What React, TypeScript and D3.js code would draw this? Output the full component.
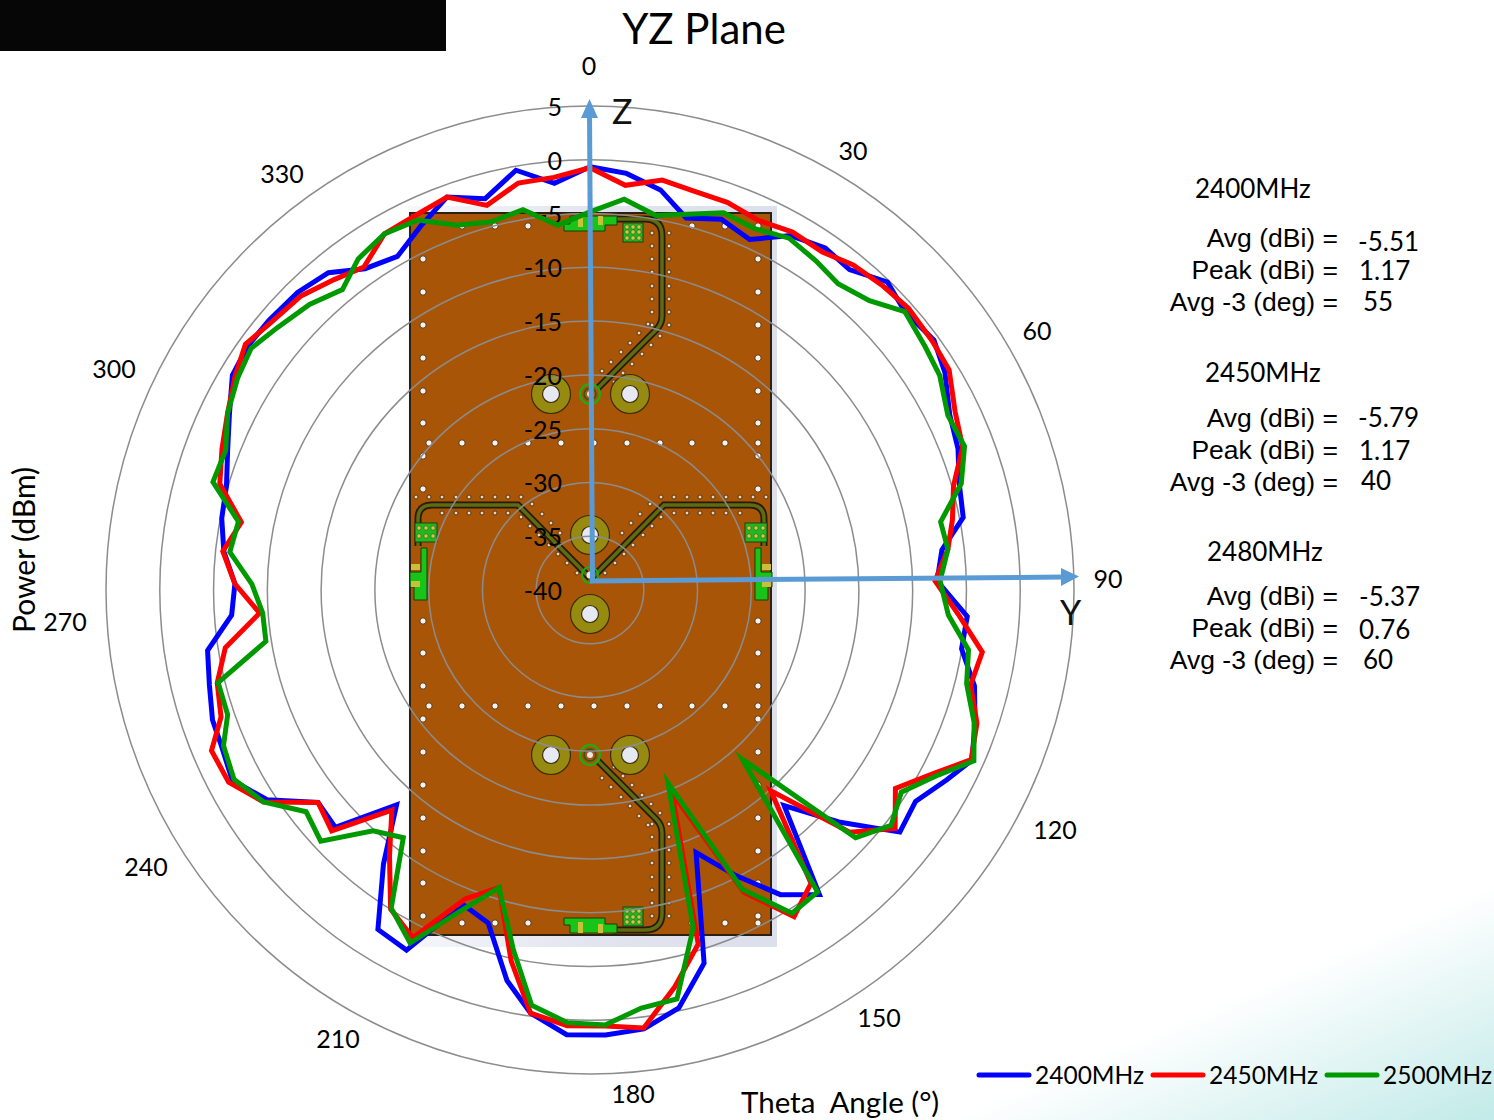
import React from "react";
import * as d3 from "d3";

// angles the samples sit at (degrees clockwise from Z)
const thetaDeg = [
  0, 5, 10, 14.5, 19.5, 24.5, 29.5, 34.5, 39, 44, 48.5, 54, 58.5, 64, 69, 74, 79, 83.5, 88.5,
  94, 99, 104, 109, 114, 118, 123, 128, 133, 138, 143, 148, 153, 158, 163, 168, 173, 178, 183,
  188, 192, 197, 202, 207, 212, 217, 222, 227, 232, 237, 242, 247, 251, 256, 261, 266, 271,
  276, 281, 286, 291, 296, 301, 305.5, 310, 315.5, 320.5, 325, 330, 335, 340, 345, 350, 355,
];

const power2400 = [
  -0.65, -1.12, -2.23, -4.28, -3.44, -4.19, -2.14, -1.4, -1.67, -0.19, -0.93, -0.47, -1.3, -2.79,
  -3.35, -4.28, -4.65, -7.07, -7.72, -4.84, -5.02, -3.16, -2.14, -1.12, -2.42, -3.91, -3.44,
  -8.37, -13.02, -4.56, -6.6, -10.23, -13.67, -3.72, -0.28, 1.12, 1.4, 1.4, -0.28, -2.88, -7.63,
  -8.47, -2.42, -2.79, -8.09, -13.12, -7.63, -7.91, -4.19, -2.33, -2.79, -2.88, -3.53, -4.0,
  -6.6, -6.98, -5.77, -5.12, -4.84, -3.91, -2.7, -1.21, -0.93, -1.02, -1.21, -1.77, -3.53, -4.19,
  -2.7, -1.12, -2.33, -0.37, -2.05,
];

const power2450 = [
  -0.74, -2.23, -1.3, -1.67, -1.77, -2.23, -1.77, -1.86, -1.12, -0.74, -0.47, -0.65, -0.84, -2.23,
  -2.88, -4.84, -5.67, -6.51, -7.91, -5.58, -3.07, -3.53, -1.95, -1.21, -3.72, -6.14, -4.0, -6.98,
  -14.88, -5.86, -4.19, -8.47, -19.63, -5.58, -2.23, 1.02, 0.56, 0.56, -0.28, -4.74, -11.07,
  -9.02, -3.72, -5.02, -9.02, -12.47, -7.16, -7.91, -3.81, -1.95, -1.77, -3.72, -4.28, -5.67,
  -9.21, -6.98, -5.67, -6.98, -4.19, -3.35, -2.51, -1.49, -0.65, -1.3, -1.67, -2.6, -3.35, -1.77,
  -1.58, -1.12, -2.98, -1.58, -1.49,
];

const power2500 = [
  -4.84, -3.53, -4.65, -3.91, -2.79, -3.07, -2.42, -2.88, -3.35, -2.6, -0.93, -1.49, -1.86, -2.98,
  -2.7, -4.09, -6.79, -6.51, -7.44, -6.6, -4.37, -3.91, -2.23, -0.93, -3.35, -5.49, -4.47, -6.23,
  -18.8, -4.84, -4.56, -8.74, -20.65, -7.16, -1.12, -0.84, 0.47, 0.28, -1.02, -5.77, -11.07,
  -7.81, -3.16, -5.12, -11.16, -9.86, -5.77, -6.51, -3.81, -2.51, -2.98, -4.37, -4.37, -9.49,
  -9.49, -8.56, -6.33, -6.7, -3.53, -3.72, -2.51, -1.77, -1.3, -2.05, -2.79, -3.81, -2.42, -1.77,
  -2.05, -3.91, -4.56, -4.09, -5.95,
];

const seriesNames = ["2400MHz", "2450MHz", "2500MHz"];
const seriesValues = [power2400, power2450, power2500];
const seriesColors = ["#0000ff", "#ff0000", "#009900"];

const radialTicks = [5, 0, -5, -10, -15, -20, -25, -30, -35, -40];
const angleLabels = ["0", "30", "60", "90", "120", "150", "180", "210", "240", "270", "300", "330"];
const angleLabelPos = [
  [589, 66], [853, 151], [1037, 331], [1108, 579], [1055, 830], [879, 1018],
  [633, 1094], [338, 1039], [146, 867], [65, 622], [114, 369], [282, 174],
];

const statBlocks = [
  { title: "2400MHz", titleX: 1195, titleY: 198, labelY: [247, 279, 311], values: ["-5.51", "1.17", "55"], valueX: [1358, 1359, 1363], valueY: [251, 280, 311] },
  { title: "2450MHz", titleX: 1205, titleY: 382, labelY: [427, 459, 491], values: ["-5.79", "1.17", "40"], valueX: [1358, 1359, 1361], valueY: [427, 460, 490] },
  { title: "2480MHz", titleX: 1207, titleY: 561, labelY: [605, 637, 669], values: ["-5.37", "0.76", "60"], valueX: [1359, 1359, 1363], valueY: [606, 639, 669] },
];
const statLabels = ["Avg (dBi) =", "Peak (dBi) =", "Avg -3 (deg) ="];

const cx = 590;
const cy = 590;
const r = d3.scaleLinear().domain([-40, 5]).range([0, 484]);
const calibri = "Lato, 'Open Sans', sans-serif";

// board artwork: via positions
const bigViaLeft = [259, 292, 325, 358, 391, 423, 456, 489, 621, 653, 686, 719, 752, 785, 818, 851, 883, 916];
const midRowX = [429, 462, 495, 528, 561, 594, 627, 660, 692, 725, 758];
const edgeTopX = [462, 495, 528, 692, 725, 758];
const sideColY = [233, 246, 259, 272, 286, 299, 312, 325];
const diagA = [[648, 324], [639, 333], [630, 343], [621, 352], [611, 362], [602, 371]];
const diagB = [[660, 336], [651, 345], [642, 354], [632, 364], [623, 373], [614, 382]];
const feedTopX = [416, 429, 442, 456, 469, 482, 495, 508, 521];
const feedBottomX = [442, 456, 469, 482, 495, 508];
const feedDiagA = [[532, 504], [542, 514], [551, 523], [560, 533]];
const feedDiagB = [[521, 517], [530, 526], [539, 535], [549, 545], [558, 554], [567, 563], [577, 573]];
const padCenters = [[551, 394], [630, 394], [590, 535], [590, 614], [551, 755], [630, 755]];

const BigVia = ({ x, y }: { x: number; y: number }) => (
  <circle cx={x} cy={y} r={3.2} fill="#f4f2f0" stroke="#5c3306" strokeWidth={1} />
);
const SmallVia = ({ x, y }: { x: number; y: number }) => (
  <circle cx={x} cy={y} r={2} fill="#e8d8c4" stroke="#4a2a06" strokeWidth={0.9} />
);

function Trace({ d }: { d: string }) {
  return (
    <g fill="none">
      <path d={d} stroke="#241d08" strokeWidth={7} />
      <path d={d} stroke="#5f6a12" strokeWidth={3.5} />
    </g>
  );
}

function NetBlock() {
  return (
    <g>
      <rect x={623} y={223} width={20} height={19} fill="#21b821" stroke="#214010" strokeWidth={1} />
      {[627, 633, 639].flatMap((x) => [227, 232, 238].map((y) => (
        <circle key={`${x}-${y}`} cx={x} cy={y} r={2.2} fill="#c9c94a" stroke="#214010" strokeWidth={0.5} />
      )))}
    </g>
  );
}

// top half of the board; the bottom half is the same thing flipped
function BoardHalf() {
  return (
    <g>
      <Trace d="M593,393 L656,330 Q662,324 662,316 L662,236 Q662,219 645,219 L613,219" />
      {sideColY.flatMap((y) => [652, 669].map((x) => <SmallVia key={`${x}-${y}`} x={x} y={y} />))}
      {diagA.concat(diagB).map(([x, y]) => <SmallVia key={`${x}-${y}`} x={x} y={y} />)}
      <circle cx={590} cy={394} r={10} fill="#a85507" stroke="#17b017" strokeWidth={2} />
      <circle cx={590} cy={394} r={6} fill="#a85507" stroke="#2a5a10" strokeWidth={1.5} />
      <circle cx={590} cy={394} r={3} fill="#e6e8f2" />
      <path d="M564,224 H570 V216 H617 V225 H605 V231 H564 Z" fill="#19c419" stroke="#1d3a0c" strokeWidth={1} />
      <rect x={578} y={216} width={5} height={11} fill="#c9c03a" />
      <rect x={598} y={216} width={5} height={9} fill="#c9c03a" />
      <NetBlock />
    </g>
  );
}

function FeedSide() {
  return (
    <g>
      <Trace d="M590,578 L518,505 L432,505 Q418,505 418,519 L418,546" />
      {feedTopX.map((x) => <SmallVia key={x} x={x} y={497} />)}
      {feedBottomX.map((x) => <SmallVia key={x} x={x} y={513} />)}
      {feedDiagA.concat(feedDiagB).map(([x, y]) => <SmallVia key={`${x}-${y}`} x={x} y={y} />)}
      <rect x={415} y={523} width={22} height={19} fill="#21b821" stroke="#214010" strokeWidth={1} />
      {[419, 426, 433].flatMap((x) => [528, 536].map((y) => (
        <circle key={`${x}-${y}`} cx={x} cy={y} r={2.2} fill="#c9c94a" stroke="#214010" strokeWidth={0.5} />
      )))}
      <path d="M421,548 H427 V600 H414 V587 H410 V572 H421 Z" fill="#19c419" stroke="#1d3a0c" strokeWidth={1} />
      <rect x={411} y={564} width={9} height={6} fill="#c9c03a" />
      <rect x={411} y={581} width={9} height={6} fill="#c9c03a" />
    </g>
  );
}

function Board() {
  return (
    <g>
      <rect x={408} y={206} width={369} height={741} fill="url(#boardShadow)" />
      <rect x={410} y={213} width={361} height={722} fill="#a85507" stroke="#2e2010" strokeWidth={2} />
      {bigViaLeft.flatMap((y) => [423, 758].map((x) => <BigVia key={`${x}-${y}`} x={x} y={y} />))}
      {midRowX.flatMap((x) => [443, 706].map((y) => <BigVia key={`${x}-${y}`} x={x} y={y} />))}
      {edgeTopX.flatMap((x) => [226, 923].map((y) => <BigVia key={`${x}-${y}`} x={x} y={y} />))}
      <BoardHalf />
      <g transform="translate(0,1149) scale(1,-1)"><BoardHalf /></g>
      <FeedSide />
      <g transform="translate(1182,0) scale(-1,1)"><FeedSide /></g>
      {padCenters.map(([x, y]) => (
        <g key={`${x}-${y}`}>
          <circle cx={x} cy={y} r={19.5} fill="#968a10" stroke="#3d2c08" strokeWidth={1.2} />
          <circle cx={x} cy={y} r={8.5} fill="#e6e8f2" stroke="#3d2c08" strokeWidth={1.2} />
        </g>
      ))}
      <circle cx={590} cy={575} r={8} fill="none" stroke="#17b017" strokeWidth={2} />
      <circle cx={590} cy={575} r={3.5} fill="#e6e8f2" />
    </g>
  );
}

export default function App() {
  const line = d3
    .lineRadial<number>()
    .angle((_, i) => (thetaDeg[i] * Math.PI) / 180)
    .radius((d) => r(d))
    .curve(d3.curveLinearClosed);

  return (
    <svg width={1494} height={1120} style={{ position: "absolute", left: 0, top: 0, display: "block" }}>
      <defs>
        <linearGradient id="corner" gradientUnits="userSpaceOnUse" x1={1222} y1={1002} x2={1313} y2={1213}>
          <stop offset="0" stopColor="#ffffff" />
          <stop offset="1" stopColor="#bde9e7" />
        </linearGradient>
        <linearGradient id="boardShadow" x1="0" x2="1" y1="0" y2="0">
          <stop offset="0" stopColor="#f6f7fb" />
          <stop offset="0.5" stopColor="#e2e4ef" />
          <stop offset="1" stopColor="#dcdfec" />
        </linearGradient>
      </defs>
      <rect width={1494} height={1120} fill="#fff" />
      <polygon points="950,1120 1494,885 1494,1120" fill="url(#corner)" />
      <rect x={0} y={0} width={446} height={51} fill="#060606" />

      <Board />

      {/* rings */}
      {radialTicks.slice(0, -1).map((t) => (
        <circle key={t} cx={cx} cy={cy} r={r(t)} fill="none" stroke="#8b8c8e" strokeWidth={1.5} />
      ))}

      {/* radial tick labels */}
      {radialTicks.map((t) => (
        <text key={t} x={562} y={cy - r(t) + 10} textAnchor="end" fontFamily={calibri} fontSize={25} fill="#000">
          {t}
        </text>
      ))}

      {/* series */}
      <g transform={`translate(${cx},${cy})`} fill="none" strokeWidth={5} strokeLinejoin="miter" strokeMiterlimit={6}>
        {seriesValues.map((vals, i) => (
          <path key={seriesNames[i]} d={line(vals) as string} stroke={seriesColors[i]} />
        ))}
      </g>

      {/* Z and Y axis arrows */}
      <g stroke="#5b9bd5" fill="#5b9bd5">
        <line x1={592.5} y1={582} x2={589.5} y2={112} strokeWidth={5} />
        <polygon points="589.5,99 598,118 581,118" stroke="none" />
        <line x1={590} y1={581} x2={1066} y2={577} strokeWidth={5} />
        <polygon points="1079,576.5 1061,568 1061,586" stroke="none" />
      </g>
      <text x={612} y={124} fontFamily={calibri} fontSize={34} fill="#111">Z</text>
      <text x={1060} y={625} fontFamily={calibri} fontSize={34} fill="#111">Y</text>

      {/* angle labels */}
      {angleLabels.map((t, i) => (
        <text key={t} x={angleLabelPos[i][0]} y={angleLabelPos[i][1] + 9} textAnchor="middle" fontFamily={calibri} fontSize={25} fill="#000">
          {t}
        </text>
      ))}

      <text x={704} y={44} textAnchor="middle" fontFamily={calibri} fontSize={42} fill="#000">YZ Plane</text>
      <text transform="translate(35,550) rotate(-90)" textAnchor="middle" fontFamily={calibri} fontSize={30} fill="#000">Power (dBm)</text>
      <text x={741} y={1113} fontFamily={calibri} fontSize={29.5} fill="#000" style={{ whiteSpace: "pre" }}>Theta  Angle (°)</text>

      {/* numbers beside the plot */}
      {statBlocks.map((b) => (
        <g key={b.title}>
          <text x={b.titleX} y={b.titleY} fontFamily={calibri} fontSize={26} fill="#000">{b.title}</text>
          {statLabels.map((l, i) => (
            <text key={l} x={1338} y={b.labelY[i]} textAnchor="end" fontFamily="'Liberation Sans', Arial, sans-serif" fontSize={26.5} fill="#000">{l}</text>
          ))}
          {b.values.map((v, i) => (
            <text key={i} x={b.valueX[i]} y={b.valueY[i]} fontFamily={calibri} fontSize={26} fill="#000">{v}</text>
          ))}
        </g>
      ))}

      {/* legend */}
      {seriesNames.map((n, i) => {
        const x = d3.scaleLinear().domain([0, 1]).range([977, 1151])(i);
        return (
          <g key={n}>
            <line x1={x + 2} y1={1075} x2={x + 52} y2={1075} stroke={seriesColors[i]} strokeWidth={5} strokeLinecap="round" />
            <text x={x + 58} y={1084} fontFamily={calibri} fontSize={24.5} fill="#000">{n}</text>
          </g>
        );
      })}
    </svg>
  );
}
